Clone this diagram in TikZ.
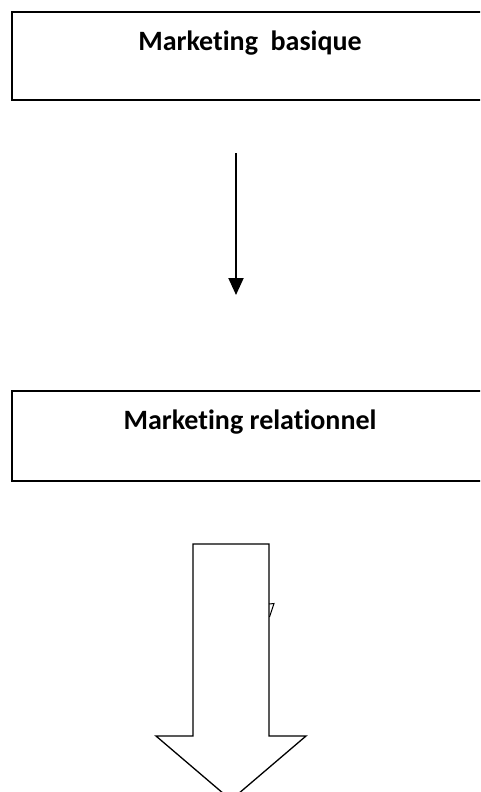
\documentclass[tikz,border=0pt]{standalone}
\usepackage{fontspec}
\setmainfont[Ligatures=NoCommon]{Carlito}
\usetikzlibrary{arrows.meta,positioning}

\tikzset{
  stage/.style={draw, rectangle, line width=2pt, inner sep=0pt,
    minimum width=476pt, font=\bfseries\fontsize{28}{34}\selectfont},
  flow/.style={line width=2pt, -{Triangle[width=15pt,length=17pt]}},
}

\begin{document}
\begin{tikzpicture}[x=1pt,y=-1pt]
\useasboundingbox (0,0) rectangle (480,792);
\clip (0,0) rectangle (480,792);

% Define nodes
\node[stage, text height=39pt, text depth=49pt] (basique) at (250,56) {Marketing\ \ basique};
\node[stage, text height=38pt, text depth=52pt, below=289pt of basique] (relat) {Marketing relationnel};

% Connect the nodes
\draw[flow] ([xshift=-14pt,yshift=-52pt]basique.south) -- ([xshift=-14pt,yshift=95pt]relat.north);

% Block arrow
\draw[line width=1.3pt] (193,544) -- (269,544) -- (269,736) -- (306,736) -- (231,800)
  -- (156,736) -- (193,736) -- cycle;
\draw[line width=1pt] (269,604) -- (274,603.5) -- (269.5,617);

\end{tikzpicture}
\end{document}
